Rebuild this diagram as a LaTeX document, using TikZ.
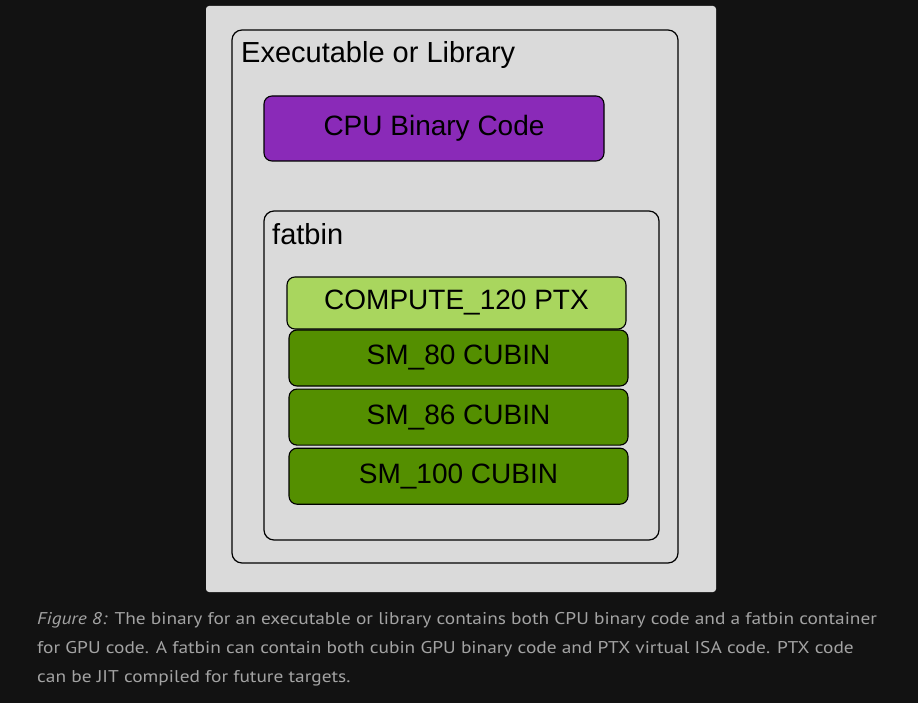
\documentclass[tikz,border=0pt]{standalone}
\usepackage{fontspec}
\setmainfont{Liberation Sans}
\newfontfamily\capfont[FakeStretch=1.14]{PT Sans}
\usetikzlibrary{positioning}
\definecolor{pagebg}{HTML}{121212}
\definecolor{panelgray}{HTML}{DADADA}
\definecolor{cpupurple}{HTML}{8A2AB8}
\definecolor{ptxgreen}{HTML}{A9D65E}
\definecolor{cubingreen}{HTML}{548F00}
\definecolor{captiongray}{HTML}{A3A3A3}
\tikzset{
  container/.style={draw=black, line width=1.2pt, rounded corners=10pt},
  codebox/.style={draw=black, line width=1.1pt, rounded corners=8pt, minimum width=339pt, inner sep=0pt, font=\fontsize{28}{32}\selectfont},
  cubin/.style={codebox, fill=cubingreen, minimum height=56pt},
  boxtitle/.style={anchor=base west, inner sep=0pt, font=\fontsize{29}{32}\selectfont},
  caption/.style={anchor=base west, inner sep=0pt, text=captiongray, font=\capfont\fontsize{17}{20}\selectfont}
}
\begin{document}
\begin{tikzpicture}[x=1pt, y=-1pt]
    % Sfondo e pannello
    \fill[pagebg] (0,0) rectangle (918,703);
    \useasboundingbox (0,0) rectangle (918,703);
    \fill[panelgray, rounded corners=3pt] (206,6) rectangle (716,592);
    % Contenitore eseguibile
    \node[container, minimum width=446pt, minimum height=533pt] (exe) at (455,296.5) {};
    \node[boxtitle] (exetitle) at (241,63) {Executable or Library};
    % Codice CPU
    \node[codebox, fill=cpupurple, minimum width=340pt, minimum height=65pt] (cpu) at (434,128.5) {CPU Binary Code};
    % Contenitore fatbin
    \node[container, minimum width=395pt, minimum height=329pt] (fatbin) at (461.5,375.5) {};
    \node[boxtitle] (fattitle) at (272,245) {fatbin};
    % PTX e cubin
    \node[codebox, fill=ptxgreen, minimum height=52pt] (ptx) at (456.5,303) {COMPUTE\_120 PTX};
    \node[cubin] (sm80) at (458.5,358) {SM\_80 CUBIN};
    \node[cubin, below=2pt of sm80] (sm86) {SM\_86 CUBIN};
    \node[cubin, below=2pt of sm86] (sm100) {SM\_100 CUBIN};
    % Didascalia
    \node[caption] (cap1) at (37,624) {\textit{Figure 8:} The binary for an executable or library contains both CPU binary code and a fatbin container};
    \node[caption] (cap2) at (37,653) {for GPU code. A fatbin can contain both cubin GPU binary code and PTX virtual ISA code. PTX code};
    \node[caption] (cap3) at (37,682) {can be JIT compiled for future targets.};
\end{tikzpicture}
\end{document}
